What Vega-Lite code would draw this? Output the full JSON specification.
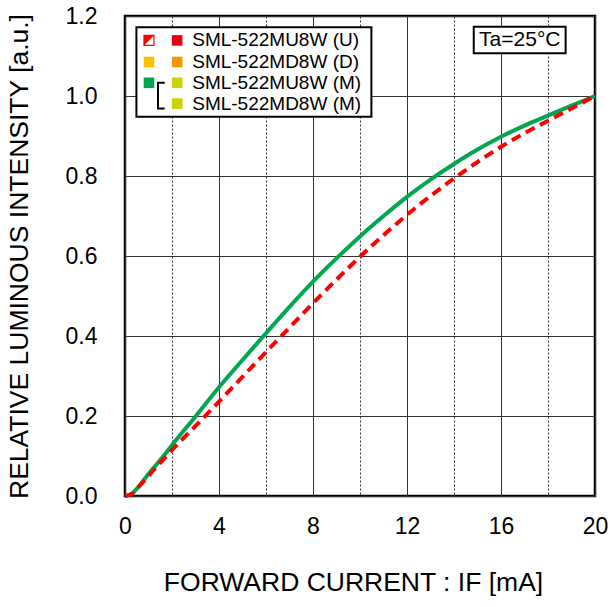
{
  "$schema": "https://vega.github.io/schema/vega-lite/v6.json",
  "width": 470,
  "height": 480,
  "autosize": {"type": "none"},
  "padding": {"left": 125, "top": 16, "right": 15, "bottom": 111},
  "background": "white",
  "config": {
    "font": "Liberation Sans",
    "view": {"stroke": "black", "strokeWidth": 2.5},
    "axis": {"labelColor": "black", "titleColor": "black", "titleFontWeight": "normal", "labelFont": "Liberation Sans", "titleFont": "Liberation Sans"}
  },
  "datasets": {
    "curves": [
      {"series": "M", "I": 0, "v": 0},
      {"series": "M", "I": 0.3, "v": 0.006},
      {"series": "M", "I": 0.6, "v": 0.025},
      {"series": "M", "I": 1, "v": 0.055},
      {"series": "M", "I": 1.5, "v": 0.09},
      {"series": "M", "I": 2, "v": 0.127},
      {"series": "M", "I": 3, "v": 0.199},
      {"series": "M", "I": 4, "v": 0.272},
      {"series": "M", "I": 5, "v": 0.34},
      {"series": "M", "I": 6, "v": 0.407},
      {"series": "M", "I": 7, "v": 0.473},
      {"series": "M", "I": 8, "v": 0.536},
      {"series": "M", "I": 9, "v": 0.594},
      {"series": "M", "I": 10, "v": 0.649},
      {"series": "M", "I": 11, "v": 0.7},
      {"series": "M", "I": 12, "v": 0.748},
      {"series": "M", "I": 13, "v": 0.791},
      {"series": "M", "I": 14, "v": 0.83},
      {"series": "M", "I": 15, "v": 0.866},
      {"series": "M", "I": 16, "v": 0.898},
      {"series": "M", "I": 17, "v": 0.926},
      {"series": "M", "I": 18, "v": 0.951},
      {"series": "M", "I": 19, "v": 0.976},
      {"series": "M", "I": 20, "v": 1.0},
      {"series": "UD", "I": 0, "v": 0},
      {"series": "UD", "I": 0.3, "v": 0.006},
      {"series": "UD", "I": 0.6, "v": 0.024},
      {"series": "UD", "I": 1, "v": 0.05},
      {"series": "UD", "I": 1.5, "v": 0.083},
      {"series": "UD", "I": 2, "v": 0.115},
      {"series": "UD", "I": 3, "v": 0.175},
      {"series": "UD", "I": 4, "v": 0.236},
      {"series": "UD", "I": 5, "v": 0.298},
      {"series": "UD", "I": 6, "v": 0.36},
      {"series": "UD", "I": 7, "v": 0.421},
      {"series": "UD", "I": 8, "v": 0.482},
      {"series": "UD", "I": 9, "v": 0.541},
      {"series": "UD", "I": 10, "v": 0.598},
      {"series": "UD", "I": 11, "v": 0.652},
      {"series": "UD", "I": 12, "v": 0.703},
      {"series": "UD", "I": 13, "v": 0.75},
      {"series": "UD", "I": 14, "v": 0.794},
      {"series": "UD", "I": 15, "v": 0.835},
      {"series": "UD", "I": 16, "v": 0.873},
      {"series": "UD", "I": 17, "v": 0.907},
      {"series": "UD", "I": 18, "v": 0.938},
      {"series": "UD", "I": 19, "v": 0.969},
      {"series": "UD", "I": 20, "v": 1.0}
    ],
    "boxes": [
      {"box": "legend", "x1": 0.485, "x2": 10.485, "y1": 0.948, "y2": 1.172},
      {"box": "temp", "x1": 14.84, "x2": 18.75, "y1": 1.107, "y2": 1.173}
    ],
    "legend": [
      {"rank": "U", "label": "SML-522MU8W (U)", "y": 1.139},
      {"rank": "D", "label": "SML-522MD8W (D)", "y": 1.085},
      {"rank": "M", "label": "SML-522MU8W (M)", "y": 1.033},
      {"rank": "M", "label": "SML-522MD8W (M)", "y": 0.981}
    ],
    "lineKeys": [
      {"rank": "D", "y": 1.085},
      {"rank": "M", "y": 1.033}
    ],
    "bracket": [
      {"o": 1, "x": 1.69, "y": 1.033},
      {"o": 2, "x": 1.404, "y": 1.033},
      {"o": 3, "x": 1.404, "y": 0.969},
      {"o": 4, "x": 1.69, "y": 0.969}
    ]
  },
  "layer": [
    {
      "data": {"name": "curves"},
      "transform": [{"filter": "datum.series === 'M'"}],
      "mark": {"type": "line", "color": "#00a650", "strokeWidth": 4, "interpolate": "monotone"},
      "encoding": {
        "x": {
          "field": "I", "type": "quantitative",
          "scale": {"domain": [0, 20], "nice": false, "zero": false},
          "axis": {
            "title": "FORWARD CURRENT : IF [mA]",
            "values": [0, 2, 4, 6, 8, 10, 12, 14, 16, 18, 20],
            "labelExpr": "datum.value % 4 === 0 ? datum.label : ''",
            "domain": false, "ticks": false, "labelPadding": 19, "labelFontSize": 23,
            "labelFlush": false, "labelOverlap": false,
            "grid": true, "gridColor": "#333333", "gridWidth": 1,
            "gridDash": {"condition": {"test": "datum.value % 4 !== 0", "value": [2, 2]}, "value": []},
            "titleFontSize": 26.5, "titleX": 228, "titleY": 94, "titleBaseline": "alphabetic"
          }
        },
        "y": {
          "field": "v", "type": "quantitative",
          "scale": {"domain": [0, 1.2], "nice": false, "zero": false},
          "axis": {
            "title": "RELATIVE LUMINOUS INTENSITY [a.u.]",
            "values": [0, 0.2, 0.4, 0.6, 0.8, 1.0, 1.2],
            "format": ".1f",
            "domain": false, "ticks": false, "labelPadding": 28, "labelFontSize": 23,
            "labelOverlap": false,
            "grid": true, "gridColor": "#333333", "gridWidth": 1,
            "titleFontSize": 26.5, "titleX": -98, "titleY": 240, "titleBaseline": "alphabetic"
          }
        }
      }
    },
    {
      "data": {"name": "curves"},
      "transform": [{"filter": "datum.series === 'UD'"}],
      "mark": {"type": "line", "color": "#ff0000", "strokeWidth": 4, "strokeDash": [10, 6], "interpolate": "monotone"},
      "encoding": {
        "x": {"field": "I", "type": "quantitative"},
        "y": {"field": "v", "type": "quantitative"}
      }
    },
    {
      "data": {"name": "boxes"},
      "mark": {"type": "rect", "fill": "white", "stroke": "black", "strokeWidth": 2},
      "encoding": {
        "x": {"field": "x1", "type": "quantitative"},
        "x2": {"field": "x2"},
        "y": {"field": "y1", "type": "quantitative"},
        "y2": {"field": "y2"}
      }
    },
    {
      "data": {"name": "legend"},
      "mark": {"type": "point", "shape": "square", "filled": true, "size": 112, "opacity": 1},
      "encoding": {
        "x": {"datum": 2.22, "type": "quantitative"},
        "y": {"field": "y", "type": "quantitative"},
        "fill": {"field": "rank", "type": "nominal", "scale": {"domain": ["U", "D", "M"], "range": ["#e60012", "#f39800", "#c9d400"]}, "legend": null}
      }
    },
    {
      "data": {"name": "lineKeys"},
      "mark": {"type": "point", "shape": "square", "filled": true, "size": 112, "opacity": 1},
      "encoding": {
        "x": {"datum": 1.02, "type": "quantitative"},
        "y": {"field": "y", "type": "quantitative"},
        "color": {"field": "rank", "type": "nominal", "scale": {"domain": ["D", "M"], "range": ["#ffc000", "#00a650"]}, "legend": null}
      }
    },
    {
      "data": {"values": [{"k": "U"}]},
      "mark": {"type": "point", "shape": "square", "filled": true, "fill": "white", "stroke": "#ff0000", "strokeWidth": 1.2, "size": 100, "opacity": 1},
      "encoding": {
        "x": {"datum": 1.02, "type": "quantitative"},
        "y": {"datum": 1.139, "type": "quantitative"}
      }
    },
    {
      "data": {"values": [{"k": "U"}]},
      "mark": {"type": "point", "shape": "M-1,-1L1,-1L-1,1Z", "filled": true, "fill": "#ff0000", "strokeWidth": 0, "size": 100, "opacity": 1},
      "encoding": {
        "x": {"datum": 1.02, "type": "quantitative"},
        "y": {"datum": 1.139, "type": "quantitative"}
      }
    },
    {
      "data": {"name": "bracket"},
      "mark": {"type": "line", "color": "black", "strokeWidth": 2},
      "encoding": {
        "x": {"field": "x", "type": "quantitative"},
        "y": {"field": "y", "type": "quantitative"},
        "order": {"field": "o", "type": "quantitative"}
      }
    },
    {
      "data": {"name": "legend"},
      "mark": {"type": "text", "align": "left", "baseline": "middle", "fontSize": 19, "color": "black", "font": "Liberation Sans"},
      "encoding": {
        "x": {"datum": 2.86, "type": "quantitative"},
        "y": {"field": "y", "type": "quantitative"},
        "text": {"field": "label"}
      }
    },
    {
      "data": {"values": [{"t": "Ta=25°C"}]},
      "mark": {"type": "text", "align": "center", "baseline": "middle", "fontSize": 21, "color": "black", "font": "Liberation Sans"},
      "encoding": {
        "x": {"datum": 16.8, "type": "quantitative"},
        "y": {"datum": 1.14, "type": "quantitative"},
        "text": {"field": "t"}
      }
    }
  ]
}
